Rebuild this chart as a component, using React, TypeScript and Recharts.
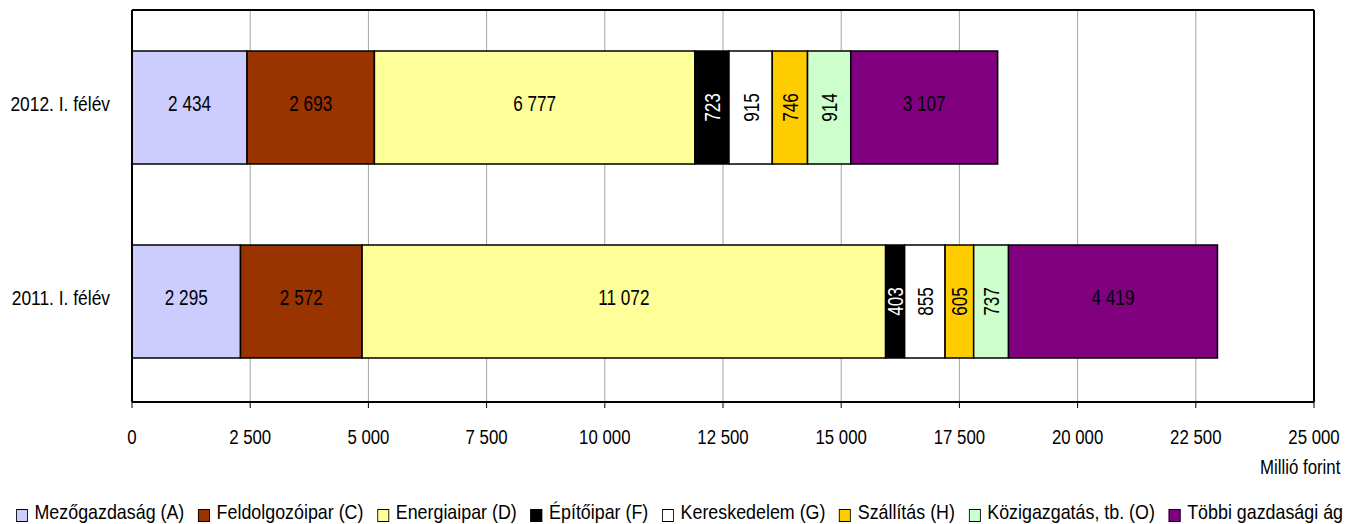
import React from 'react';
import { BarChart, Bar, XAxis, YAxis, CartesianGrid, LabelList } from 'recharts';

const categories = ['2012. I. félév', '2011. I. félév'];
const mezogazdasag = [2434, 2295];
const feldolgozoipar = [2693, 2572];
const energiaipar = [6777, 11072];
const epitoipar = [723, 403];
const kereskedelem = [915, 855];
const szallitas = [746, 605];
const kozigazgatas = [914, 737];
const tobbi = [3107, 4419];
const xTicks = [0, 2500, 5000, 7500, 10000, 12500, 15000, 17500, 20000, 22500, 25000];

const seriesDefs = [
  { key: 'a', name: 'Mezőgazdaság (A)', values: mezogazdasag, color: '#CCCCFF', text: '#000' },
  { key: 'c', name: 'Feldolgozóipar (C)', values: feldolgozoipar, color: '#993300', text: '#000' },
  { key: 'd', name: 'Energiaipar (D)', values: energiaipar, color: '#FFFF99', text: '#000' },
  { key: 'f', name: 'Építőipar (F)', values: epitoipar, color: '#000000', text: '#fff' },
  { key: 'g', name: 'Kereskedelem (G)', values: kereskedelem, color: '#FFFFFF', text: '#000' },
  { key: 'h', name: 'Szállítás (H)', values: szallitas, color: '#FFCC00', text: '#000' },
  { key: 'o', name: 'Közigazgatás, tb. (O)', values: kozigazgatas, color: '#CCFFCC', text: '#000' },
  { key: 'x', name: 'Többi gazdasági ág', values: tobbi, color: '#800080', text: '#000' },
];

const data = categories.map((name, i) => {
  const row: any = { name };
  seriesDefs.forEach((s) => (row[s.key] = s.values[i]));
  return row;
});

const FONT = "'Liberation Sans', Arial, sans-serif";

const fmt = (v: number) => {
  const s = String(Math.round(v));
  return s.replace(/\B(?=(\d{3})+(?!\d))/g, ' ');
};

const LBL_FS = 22;
const LBL_SX = 0.78;
const makeLabel = (color: string) => (props: any) => {
  const { x, y, width, height, value } = props;
  const cx = Number(x) + Number(width) / 2;
  const cy = Number(y) + Number(height) / 2;
  const rotated = Number(width) < 60;
  const yy = rotated ? cy : cy - 4;
  return (
    <g transform={`translate(${cx}, ${yy})${rotated ? ' rotate(-90)' : ''} scale(${LBL_SX}, 1)`}>
      <text x={0} y={0.358 * LBL_FS} fill={color} fontSize={LBL_FS} fontFamily={FONT} textAnchor="middle">
        {fmt(value)}
      </text>
    </g>
  );
};

const XTick = (props: any) => {
  const { x, y, payload } = props;
  return (
    <g transform={`translate(${x}, ${y}) scale(0.8, 1)`}>
      <text x={0} y={0} dy="0.71em" fill="#000" fontSize={21} fontFamily={FONT} textAnchor="middle">
        {fmt(payload.value)}
      </text>
    </g>
  );
};

const YTick = (props: any) => {
  const { x, y, payload } = props;
  return (
    <g transform={`translate(${x}, ${y - 3}) scale(0.87, 1)`}>
      <text x={0} y={0} dy="0.358em" fill="#000" fontSize={20} fontFamily={FONT} textAnchor="end">
        {payload.value}
      </text>
    </g>
  );
};

const LEG_SX = 0.85;
const LEG_W = 1359 / LEG_SX;
const border = { stroke: '#000', strokeWidth: 2 };

export default function App() {
  return (
    <div style={{ position: 'absolute', left: 0, top: 0, width: 1359, height: 524, background: '#fff', fontFamily: FONT, overflow: 'hidden' }}>
      <BarChart
        width={1359}
        height={524}
        data={data}
        layout="vertical"
        margin={{ top: 9, right: 44, left: 8, bottom: 82 }}
        barCategoryGap={0}
      >
        <CartesianGrid horizontal={false} stroke="#a6a6a6" strokeWidth={1} />
        <XAxis
          type="number"
          domain={[0, 25000]}
          ticks={xTicks}
          height={40}
          interval={0}
          axisLine={border}
          tickLine={{ stroke: '#000', strokeWidth: 1 }}
          tickSize={6}
          tickMargin={21}
          tick={<XTick />}
        />
        <XAxis
          xAxisId="top"
          orientation="top"
          type="number"
          domain={[0, 25000]}
          height={1}
          axisLine={border}
          tick={false}
          tickLine={false}
        />
        <YAxis
          type="category"
          dataKey="name"
          width={124}
          axisLine={border}
          tickLine={false}
          tickSize={0}
          tickMargin={22}
          padding={{ top: 0, bottom: 4 }}
          tick={<YTick />}
        />
        <YAxis
          yAxisId="right"
          orientation="right"
          type="category"
          dataKey="name"
          width={1}
          axisLine={border}
          tick={false}
          tickLine={false}
        />
        {seriesDefs.map((s) => (
          <Bar
            key={s.key}
            dataKey={s.key}
            name={s.name}
            stackId="s"
            fill={s.color}
            stroke="#000"
            strokeWidth={1.5}
            barSize={113}
            isAnimationActive={false}
          >
            <LabelList dataKey={s.key} content={makeLabel(s.text)} />
          </Bar>
        ))}
      </BarChart>
      <div
        style={{
          position: 'absolute',
          right: 19,
          top: 455,
          fontSize: 21,
          lineHeight: '24px',
          color: '#000',
          transform: 'scaleX(0.8)',
          transformOrigin: 'right top',
          whiteSpace: 'nowrap',
        }}
      >
        Millió forint
      </div>
      <div
        style={{
          position: 'absolute',
          left: (1359 - LEG_W) / 2,
          top: 500,
          width: LEG_W,
          display: 'flex',
          justifyContent: 'center',
          fontSize: 21,
          lineHeight: '24px',
          color: '#000',
          whiteSpace: 'nowrap',
          transform: `scaleX(${LEG_SX})`,
          transformOrigin: 'center top',
        }}
      >
        {seriesDefs.map((s, i) => (
          <div key={s.key} style={{ display: 'flex', alignItems: 'flex-end', marginLeft: i === 0 ? 0 : 16 }}>
            <span
              style={{
                display: 'inline-block',
                width: 12,
                height: 11,
                background: s.color,
                border: '1px solid #000',
                marginRight: 8,
                marginBottom: 2,
              }}
            />
            <span>{s.name}</span>
          </div>
        ))}
      </div>
    </div>
  );
}
